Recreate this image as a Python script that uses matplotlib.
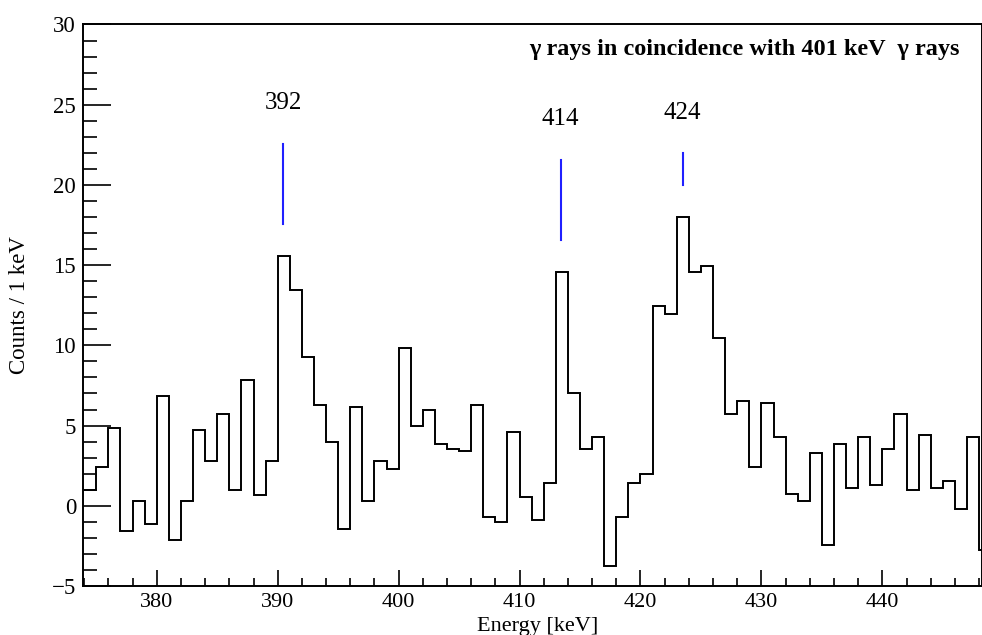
import numpy as np
import matplotlib
matplotlib.use("Agg")
import matplotlib.pyplot as plt

# Bin contents, 1 keV bins starting at 374 keV
bin_low = 374
counts = [1.0, 2.41, 4.84, -1.6, 0.27, -1.16, 6.85, -2.16, 0.27, 4.71,
          2.82, 5.71, 1.0, 7.85, 0.69, 2.82, 15.58, 13.42, 9.26, 6.27,
          3.97, -1.43, 6.13, 0.27, 2.82, 2.28, 9.84, 4.98, 6.0, 3.86,
          3.57, 3.43, 6.27, -0.73, -1.02, 4.57, 0.56, -0.87, 1.43, 14.56,
          7.0, 3.55, 4.28, -3.74, -0.73, 1.43, 2.01, 12.44, 11.98, 17.99,
          14.56, 14.97, 10.43, 5.71, 6.56, 2.41, 6.42, 4.30, 0.71, 0.29,
          3.28, -2.45, 3.86, 1.12, 4.30, 1.27, 3.55, 5.71, 0.98, 4.42,
          1.12, 1.56, -0.17, 4.30, -2.74]

# Peak markers: label, x position, line bottom, line top, label height
peak_labels = ["392", "414", "424"]
peak_x = [390.47, 413.4, 423.49]
peak_lo = [17.57, 16.57, 20.0]
peak_hi = [22.55, 21.56, 21.97]
peak_text_y = [25.1, 24.1, 24.5]

title = "\u03b3 rays in coincidence with 401 keV  \u03b3 rays"

plt.rcParams['font.family'] = ['Liberation Serif', 'DejaVu Serif']

fig = plt.figure(figsize=(9.82, 6.35), dpi=100)
ax = fig.add_axes([83 / 982, 1 - 586 / 635, 1 - 83 / 982 - 0.0005, (586 - 24.5) / 635])

edges = np.arange(bin_low, bin_low + len(counts) + 1)
ax.stairs(counts, edges, baseline=None, color="black", linewidth=1.4)

# Blue markers and labels above the peaks
for lab, x, lo, hi, ty in zip(peak_labels, peak_x, peak_lo, peak_hi, peak_text_y):
    ax.plot([x, x], [lo, hi], color="#2020ff", linewidth=1.5)
    ax.text(x, ty, lab, ha="center", va="center", fontsize=18)

ax.set_xlim(373.9, 448.2)
ax.set_ylim(-5, 30)

ax.set_xticks(np.arange(380, 441, 10))
ax.set_xticks(np.arange(374, 449, 2), minor=True)
ax.set_yticks(np.arange(-5, 31, 5))
ax.set_yticks(np.arange(-5, 31, 1), minor=True)
ax.set_yticklabels([("\u2212" + str(-v)) if v < 0 else str(v) for v in range(-5, 31, 5)])

ax.tick_params(axis="x", which="major", direction="in", length=11.5, width=1.2, labelsize=16, pad=5)
ax.tick_params(axis="x", which="minor", direction="in", length=5.8, width=1.2)
ax.tick_params(axis="y", which="major", direction="in", length=20, width=1.2, labelsize=16.5, pad=5)
ax.tick_params(axis="y", which="minor", direction="in", length=10, width=1.2)

for s in ax.spines.values():
    s.set_linewidth(1.4)

fig.text(538 / 982, 1 - 626 / 635, "Energy [keV]", ha="center", va="center", fontsize=16)
fig.text(20 / 982, 1 - 305 / 635, "Counts / 1 keV", ha="center", va="center", rotation=90, fontsize=16.5)
fig.text(960 / 982, 1 - 50 / 635, title, ha="right", va="center", fontsize=17.5, fontweight="bold")

fig.savefig("out.png", dpi=100)
